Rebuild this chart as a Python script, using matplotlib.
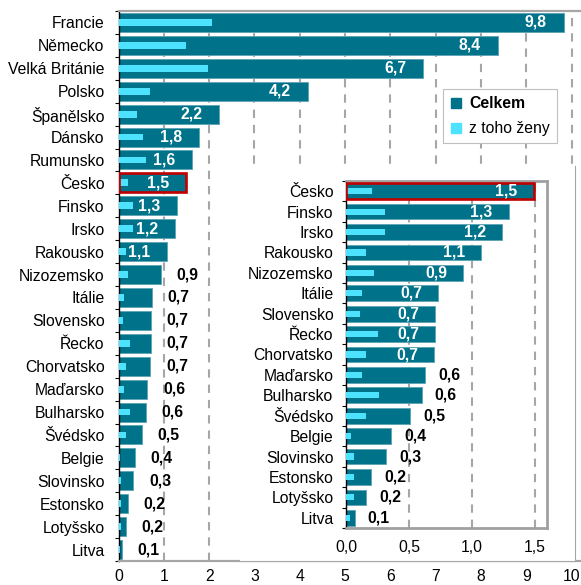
import numpy as np
import matplotlib
matplotlib.use('Agg')
import matplotlib.pyplot as plt
from matplotlib.lines import Line2D
from matplotlib.patches import Rectangle

plt.rcParams['font.family'] = ['Liberation Sans', 'DejaVu Sans']
plt.rcParams['font.size'] = 11.3
plt.rcParams['lines.scale_dashes'] = False

# Data
zeme = ['Francie', 'Německo', 'Velká Británie', 'Polsko', 'Španělsko', 'Dánsko',
        'Rumunsko', 'Česko', 'Finsko', 'Irsko', 'Rakousko', 'Nizozemsko', 'Itálie',
        'Slovensko', 'Řecko', 'Chorvatsko', 'Maďarsko', 'Bulharsko', 'Švédsko',
        'Belgie', 'Slovinsko', 'Estonsko', 'Lotyšsko', 'Litva']
celkem = [9.83, 8.38, 6.73, 4.18, 2.22, 1.78, 1.63, 1.49, 1.29, 1.24, 1.07, 0.93,
          0.73, 0.71, 0.71, 0.70, 0.63, 0.60, 0.51, 0.36, 0.32, 0.20, 0.16, 0.07]
zeny = [2.07, 1.50, 1.97, 0.70, 0.41, 0.55, 0.60, 0.21, 0.31, 0.31, 0.16, 0.22,
        0.13, 0.11, 0.25, 0.16, 0.13, 0.26, 0.16, 0.04, 0.06, 0.06, 0.06, 0.03]
main_ticks = [0, 1, 2, 3, 4, 5, 6, 7, 8, 9, 10]
inset_ticks = [0.0, 0.5, 1.0, 1.5]
inset_from = zeme.index('Česko')

TEAL = '#00738A'
CYAN = '#4DE3FF'
RED = '#C00000'
GRID = '#A6A6A6'
W, H = 581, 585


def fmt(v):
    return ('%.1f' % v).replace('.', ',')


def draw_bars(ax, names, tot, fem, h_tot, n_inside, off_in, off_out):
    y = np.arange(len(names))
    ax.barh(y, tot, height=h_tot, color=TEAL, edgecolor='#5BA3B1', lw=0.6, zorder=2)
    ax.barh(y, fem, height=0.3, color=CYAN, lw=0, zorder=3)
    # Cesko zvyraznene cervene
    ic = names.index('Česko')
    ax.barh(ic, tot[ic], height=h_tot, fill=False, edgecolor=RED, lw=1.9, zorder=4)
    for i, v in enumerate(tot):
        if i < n_inside:
            ax.annotate(fmt(v), (v, i), xytext=(off_in, 0), textcoords='offset pixels',
                        ha='right', va='center', color='white', fontweight='bold', zorder=5)
        else:
            ax.annotate(fmt(v), (v, i), xytext=(off_out, 0), textcoords='offset pixels',
                        ha='left', va='center', color='black', fontweight='bold', zorder=5)
    n = len(names)
    ax.set_ylim(n - 0.5, -0.5)
    ax.set_yticks(y)
    ax.set_yticklabels(names)
    ax.set_yticks(np.arange(-0.5, n), minor=True)
    ax.tick_params(axis='y', which='major', length=0, pad=10)
    ax.tick_params(axis='y', which='minor', length=3, width=0.8, color='black')
    ax.set_axisbelow(True)
    ax.grid(True, axis='x', color=GRID, lw=1.5, linestyle=(0, (6, 5)))
    ax.spines['left'].set_color('black')
    ax.spines['left'].set_linewidth(1.0)


fig = plt.figure(figsize=(W / 100, H / 100), dpi=100)

# hlavni graf
ax = fig.add_axes([118.5 / W, 1 - 561 / H, (W - 118.5) / W, 550 / H])
draw_bars(ax, zeme, celkem, zeny, 0.83, 11, -17, 16)
ax.set_xlim(0, (W - 118.5) / 45.3)
ax.set_xticks(main_ticks)
ax.set_xticklabels([str(t) for t in main_ticks])
ax.tick_params(axis='x', length=0, pad=6)
ax.spines['right'].set_visible(False)
for s in ['top', 'bottom']:
    ax.spines[s].set_color(GRID)
    ax.spines[s].set_linewidth(1.6)

handles = [Line2D([], [], marker='s', ls='none', color=TEAL, markersize=7),
           Line2D([], [], marker='s', ls='none', color=CYAN, markersize=7)]
leg = ax.legend(handles, ['Celkem', 'z toho ženy'], loc='upper left',
                bbox_to_anchor=(443 / W, 1 - 89 / H), bbox_transform=fig.transFigure,
                frameon=True, fancybox=False, edgecolor='#BFBFBF', framealpha=1,
                borderpad=0.45, labelspacing=0.65, handlelength=0.8, handletextpad=0.4,
                borderaxespad=0)
leg.get_frame().set_linewidth(0.8)
leg.get_texts()[0].set_fontweight('bold')

# bile pozadi pod vyrezem
x0, x1, y0, y1 = 240 / W, 575 / W, 1 - 561 / H, 1 - 166 / H
fig.add_artist(Rectangle((x0, y0), x1 - x0, y1 - y0, transform=fig.transFigure,
                         facecolor='white', edgecolor='none', zorder=1))
fig.add_artist(Line2D([x0, x1], [y0, y0], transform=fig.transFigure, color=GRID, lw=0.8, zorder=1.5))
fig.add_artist(Line2D([x1, x1], [y0, y1], transform=fig.transFigure, color=GRID, lw=0.8, zorder=1.5))

# vyrez
ins = fig.add_axes([346 / W, 1 - 528 / H, 201 / W, 347 / H])
ins.set_zorder(2)
draw_bars(ins, zeme[inset_from:], celkem[inset_from:], zeny[inset_from:], 0.77, 9, -16, 13)
ins.set_xlim(0, 201 / 126)
ins.set_xticks(inset_ticks)
ins.set_xticklabels([fmt(t) for t in inset_ticks])
ins.tick_params(axis='x', length=0, pad=9)
ins.tick_params(axis='y', which='major', pad=9)
for s in ['top', 'right', 'bottom']:
    ins.spines[s].set_color('#A0A0A0')
    ins.spines[s].set_linewidth(2.0)

fig.savefig('out.png', dpi=100)
